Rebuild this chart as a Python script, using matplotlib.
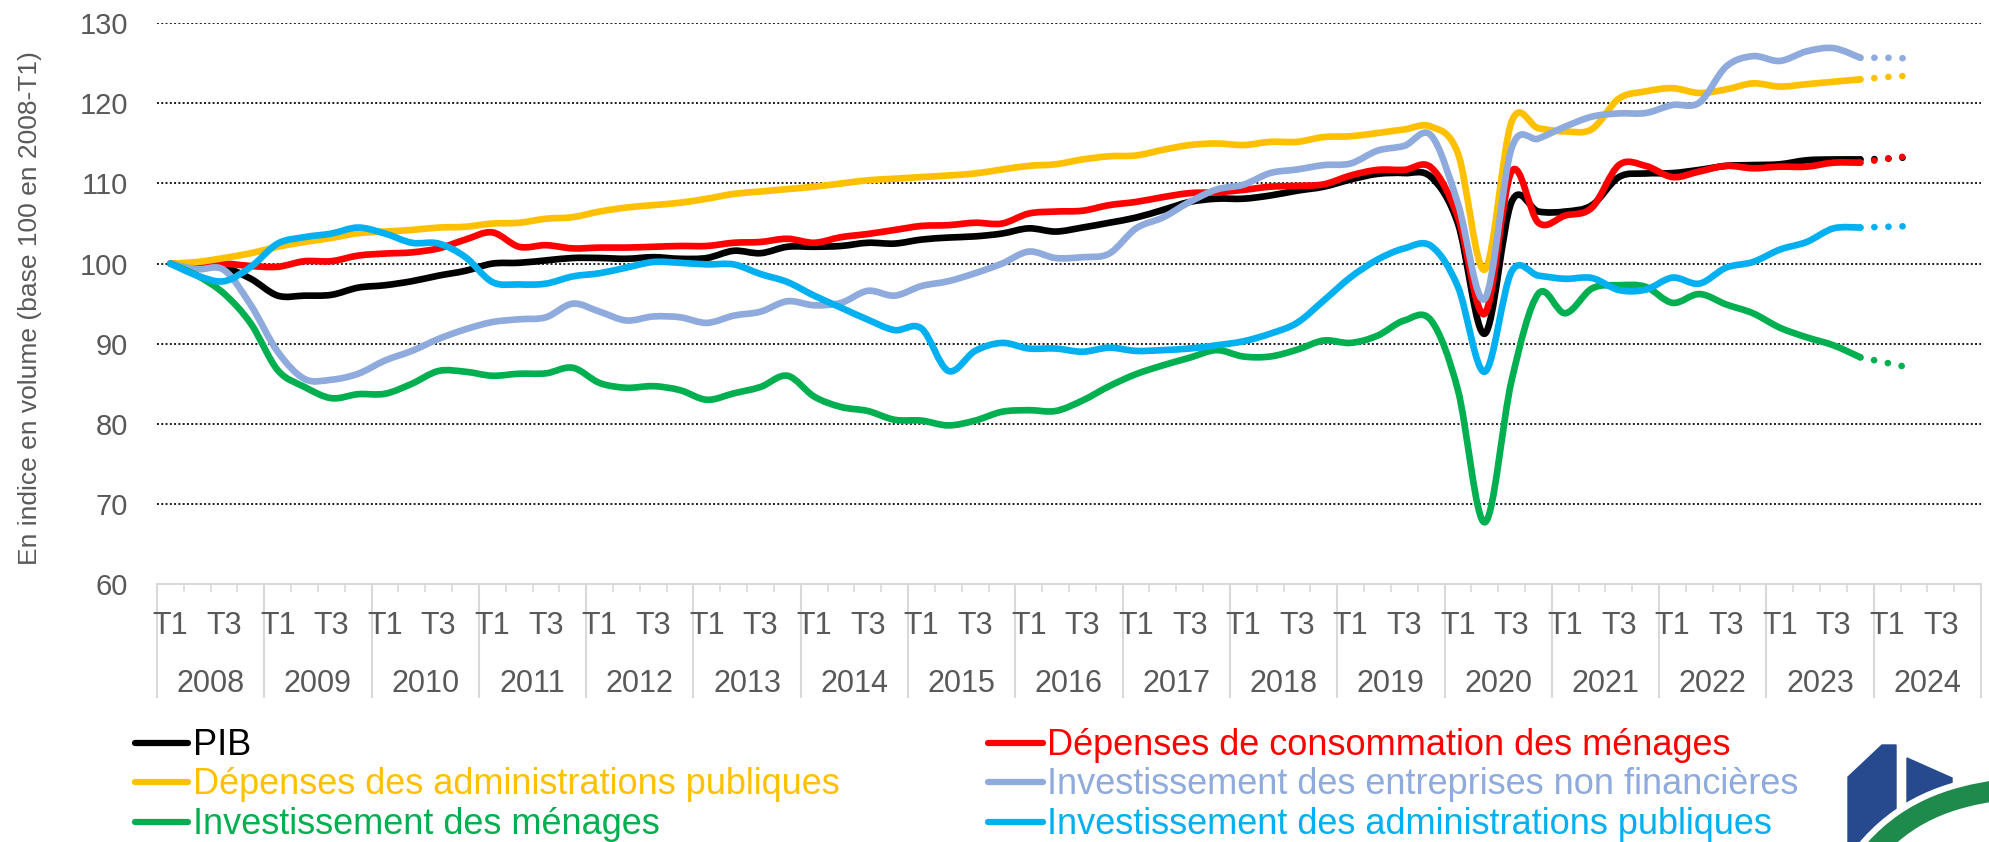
import numpy as np
import matplotlib.pyplot as plt
from matplotlib.path import Path
from matplotlib.patches import PathPatch, Polygon
from matplotlib.lines import Line2D

plt.rcParams['font.family'] = ['Liberation Sans', 'DejaVu Sans']

years = list(range(2008, 2025))
quarters = ["T1", "T2", "T3", "T4"]
shown_quarters = ["T1", "T3"]
y_ticks = [60, 70, 80, 90, 100, 110, 120, 130]
y_label = "En indice en volume (base 100 en 2008-T1)"

# 2008-T1 .. 2023-T4 (observed)
pib = [100, 99.6, 99.5, 98.1, 96.0, 96.0, 96.1, 97.0, 97.3, 97.8, 98.5, 99.1,
       100.0, 100.1, 100.4, 100.7, 100.7, 100.6, 100.8, 100.6, 100.7, 101.6, 101.3, 102.1,
       102.1, 102.2, 102.6, 102.5, 103.0, 103.25, 103.4, 103.75, 104.4, 104.0, 104.5, 105.1,
       105.75, 106.7, 107.7, 108.1, 108.1, 108.5, 109.1, 109.6, 110.5, 111.2, 111.3, 110.8,
       105.0, 91.25, 107.7, 106.5, 106.5, 107.3, 110.8, 111.25, 111.3, 111.7, 112.2, 112.3,
       112.4, 112.9, 113.0, 113.0]
conso_menages = [100, 99.9, 100.0, 99.7, 99.6, 100.3, 100.3, 101.0, 101.25, 101.4, 101.9, 103.0,
                 103.9, 102.1, 102.3, 101.9, 102.0, 102.0, 102.1, 102.2, 102.2, 102.6, 102.7, 103.1,
                 102.6, 103.3, 103.7, 104.2, 104.7, 104.8, 105.1, 105.0, 106.25, 106.5, 106.6, 107.3,
                 107.7, 108.3, 108.8, 108.9, 109.2, 109.6, 109.7, 109.9, 111.0, 111.7, 111.7, 112.0,
                 105.8, 93.75, 111.5, 105.1, 106.0, 107.0, 112.3, 112.2, 110.8, 111.5, 112.2, 111.9,
                 112.1, 112.1, 112.6, 112.6]
depenses_apu = [100, 100.2, 100.7, 101.3, 102.1, 102.7, 103.2, 103.8, 104.0, 104.2, 104.5, 104.6,
                105.0, 105.1, 105.6, 105.8, 106.5, 107.0, 107.3, 107.6, 108.1, 108.7, 109.0, 109.3,
                109.6, 110.0, 110.4, 110.6, 110.8, 111.0, 111.25, 111.75, 112.2, 112.4, 113.0, 113.4,
                113.5, 114.2, 114.8, 115.0, 114.8, 115.2, 115.2, 115.8, 115.9, 116.3, 116.75, 117.1,
                113.75, 99.25, 117.7, 116.9, 116.5, 116.8, 120.6, 121.5, 121.9, 121.3, 121.75, 122.5,
                122.1, 122.4, 122.7, 123.0]
invest_enf = [100, 99.3, 99.2, 94.8, 89.0, 85.6, 85.5, 86.25, 87.9, 89.1, 90.6, 91.8,
              92.7, 93.05, 93.3, 95.0, 94.0, 92.9, 93.4, 93.3, 92.6, 93.5, 94.0, 95.3,
              94.8, 95.1, 96.6, 96.0, 97.2, 97.8, 98.8, 100.0, 101.5, 100.7, 100.8, 101.25,
              104.4, 105.75, 107.7, 109.25, 109.85, 111.3, 111.75, 112.3, 112.5, 114.1, 114.7, 116.0,
              107.5, 95.6, 114.4, 115.6, 117.1, 118.35, 118.75, 118.8, 119.8, 120.1, 124.6, 125.9,
              125.3, 126.5, 126.9, 125.7]
invest_menages = [100, 98.5, 96.25, 92.5, 86.7, 84.6, 83.2, 83.7, 83.75, 85.0, 86.6, 86.5,
                  86.0, 86.25, 86.3, 87.0, 85.1, 84.5, 84.7, 84.2, 83.0, 83.8, 84.6, 86.0,
                  83.4, 82.1, 81.6, 80.5, 80.4, 79.8, 80.4, 81.5, 81.7, 81.6, 82.9, 84.7,
                  86.2, 87.3, 88.25, 89.2, 88.4, 88.4, 89.25, 90.4, 90.1, 91.0, 92.9, 92.9,
                  84.2, 67.7, 85.4, 96.25, 93.8, 96.9, 97.3, 97.1, 95.1, 96.2, 94.9, 93.8,
                  92.0, 90.8, 89.8, 88.3]
invest_apu = [100, 98.5, 97.8, 99.6, 102.5, 103.3, 103.75, 104.5, 103.75, 102.6, 102.5, 100.8,
              97.7, 97.4, 97.5, 98.4, 98.8, 99.5, 100.2, 100.1, 99.9, 99.9, 98.7, 97.7,
              96.0, 94.5, 93.0, 91.7, 91.9, 86.6, 89.1, 90.1, 89.4, 89.4, 89.0, 89.5,
              89.1, 89.2, 89.4, 89.8, 90.3, 91.25, 92.6, 95.4, 98.3, 100.5, 101.9, 102.2,
              97.1, 86.5, 99.0, 98.5, 98.1, 98.2, 96.7, 96.75, 98.25, 97.5, 99.5, 100.2,
              101.75, 102.7, 104.4, 104.5]

# 2024-T1, 2024-T2 (prévision)
pib_prev = [113.1, 113.3]
conso_menages_prev = [113.1, 113.5]
depenses_apu_prev = [123.3, 123.5]
invest_enf_prev = [125.7, 125.6]
invest_menages_prev = [87.6, 86.9]
invest_apu_prev = [104.6, 104.7]

series = [
    ("PIB", "#000000", pib, pib_prev),
    ("Dépenses de consommation des ménages", "#FF0000", conso_menages, conso_menages_prev),
    ("Dépenses des administrations publiques", "#FFC000", depenses_apu, depenses_apu_prev),
    ("Investissement des entreprises non financières", "#8FAADC", invest_enf, invest_enf_prev),
    ("Investissement des ménages", "#00B050", invest_menages, invest_menages_prev),
    ("Investissement des administrations publiques", "#00B0F0", invest_apu, invest_apu_prev),
]


def smooth_path(x, y):
    # Excel style smoothed line: Catmull-Rom segments as cubic Bezier
    pts = np.column_stack([x, y]).astype(float)
    n = len(pts)
    verts = [pts[0]]
    codes = [Path.MOVETO]
    for i in range(n - 1):
        p0 = pts[max(i - 1, 0)]
        p1 = pts[i]
        p2 = pts[i + 1]
        p3 = pts[min(i + 2, n - 1)]
        verts += [p1 + (p2 - p0) / 6, p2 - (p3 - p1) / 6, p2]
        codes += [Path.CURVE4] * 3
    return Path(verts, codes)


W, H = 1990, 842
fig = plt.figure(figsize=(W / 100, H / 100), dpi=100)
ax = fig.add_axes([157 / W, 1 - 584 / H, (1981 - 157) / W, (584 - 23.3) / H])

n_cat = len(years) * len(quarters)
ax.set_xlim(-0.5, n_cat - 0.5)
ax.set_ylim(y_ticks[0], y_ticks[-1])

for yv in y_ticks[1:]:
    ax.axhline(yv, color="#1a1a1a", lw=1.4, ls=(0, (1, 1.2)), zorder=1)

for name, color, obs, prev in series:
    x = np.arange(len(obs))
    ax.add_patch(PathPatch(smooth_path(x, obs), fill=False, edgecolor=color, lw=4.8,
                           capstyle="round", joinstyle="round", zorder=3))
    xp = np.arange(len(obs) - 1, len(obs) + len(prev))
    ax.plot(xp, [obs[-1]] + prev, color=color, lw=4.8, ls=(0, (0.01, 2.1)),
            dash_capstyle="round", zorder=3)

# axes & ticks
for s in ["left", "right", "top"]:
    ax.spines[s].set_visible(False)
ax.spines["bottom"].set_color("#D9D9D9")
ax.spines["bottom"].set_linewidth(1.5)
ax.set_yticks(y_ticks)
ax.tick_params(axis="y", length=0, pad=21, labelsize=21, labelcolor="#595959")
ax.set_xticks(np.arange(-0.5, n_cat, 4))
ax.set_xticklabels([])
ax.set_xticks(np.arange(-0.5, n_cat, 1), minor=True)
ax.tick_params(axis="x", which="major", length=82, width=1.5, color="#D9D9D9", direction="out")
ax.tick_params(axis="x", which="minor", length=6, width=1.2, color="#D9D9D9", direction="out")

tr = ax.get_xaxis_transform()
ah = 584 - 23.3
for k, yr in enumerate(years):
    for q in shown_quarters:
        ax.text(k * 4 + quarters.index(q), -(634 - 584) / ah, q, transform=tr,
                ha="center", va="baseline", fontsize=22, color="#595959")
    ax.text(k * 4 + 1.5, -(692 - 584) / ah, str(yr), transform=tr,
            ha="center", va="baseline", fontsize=22, color="#595959")

fig.text(30 / W, 1 - 308 / H, y_label, rotation=90, ha="center", va="center",
         fontsize=19, color="#595959")

# legend, two columns
cols = [(135, 188, 193), (988, 1043, 1047)]
rows = [755, 794, 834]
for idx, (name, color, obs, prev) in enumerate(series):
    r, c = divmod(idx, 2)
    x0, x1, xt = cols[c]
    yb = rows[r]
    fig.add_artist(Line2D([x0 / W, x1 / W], [1 - (yb - 12.5) / H] * 2, color=color, lw=4.5,
                          solid_capstyle="round", transform=fig.transFigure))
    fig.text(xt / W, 1 - yb / H, name, color=color, fontsize=26, ha="left", va="baseline")

# logo
def fp(pts):
    return [(px / W, 1 - py / H) for px, py in pts]

fig.add_artist(Polygon(fp([(1848, 777), (1882, 745), (1896, 745), (1896, 842), (1848, 842)]),
                       closed=True, color="#264A8D", transform=fig.transFigure))
fig.add_artist(Polygon(fp([(1907, 758), (1952, 778), (1952, 805), (1907, 822)]),
                       closed=True, color="#264A8D", transform=fig.transFigure))
arc = Path(fp([(1868, 858), (1905, 812), (1950, 797), (2000, 790)]),
           [Path.MOVETO, Path.CURVE4, Path.CURVE4, Path.CURVE4])
fig.add_artist(PathPatch(arc, fill=False, edgecolor="white", lw=24, transform=fig.transFigure))
fig.add_artist(PathPatch(arc, fill=False, edgecolor="#1E8B4C", lw=15, transform=fig.transFigure))

fig.savefig("out.png", dpi=100)
